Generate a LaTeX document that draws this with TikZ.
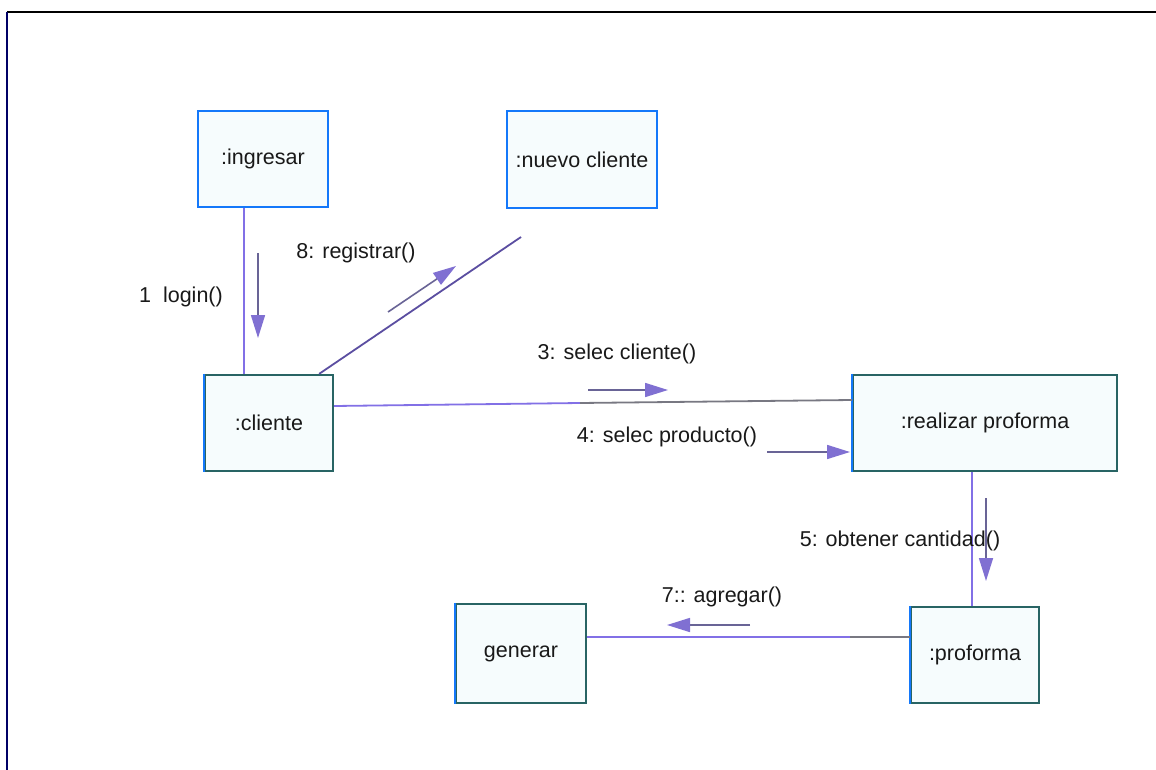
\documentclass[tikz,border=0pt]{standalone}
\usepackage{fontspec}
\setmainfont{Liberation Sans}
\usetikzlibrary{arrows.meta}
\definecolor{boxblue}{RGB}{20,120,250}
\definecolor{boxteal}{RGB}{40,100,100}
\definecolor{boxfill}{RGB}{246,252,253}
\definecolor{linkpurple}{RGB}{130,112,230}
\definecolor{linkgray}{RGB}{120,120,130}
\definecolor{msgline}{RGB}{105,100,150}
\definecolor{msghead}{RGB}{128,112,210}
\definecolor{txt}{RGB}{25,25,25}
\tikzset{
  objbox/.style={draw=#1, line width=2.2pt, fill=boxfill, inner sep=0pt, text=txt,
    font=\fontsize{21.5}{25}\selectfont},
  linkline/.style={draw=linkpurple, line width=1.8pt},
  graylink/.style={draw=linkgray, line width=1.8pt},
  msg/.style={draw=msgline, line width=1.6pt,
    -{Triangle[length=23pt,width=14pt,fill=msghead,color=msghead]}},
  lbl/.style={font=\fontsize{21.5}{25}\selectfont, inner sep=0pt, text=txt}
}
\begin{document}
\begin{tikzpicture}[x=1pt,y=-1pt]
\useasboundingbox (0,0) rectangle (1156,770);
\fill[white] (0,0) rectangle (1156,770);
% frame
\draw[black, line width=1.4pt] (7,12) -- (1156,12);
\draw[black!60!blue, line width=1.2pt] (7,12) -- (7,770);

% objects
\node[objbox=boxblue, minimum width=130pt, minimum height=96pt] (ing) at (263,159) {:ingresar};
\node[objbox=boxblue, minimum width=150pt, minimum height=97pt] (nue) at (582,159.5) {:nuevo cliente};
\node[objbox=boxteal, minimum width=128pt, minimum height=96pt] (cli) at (269,423) {:cliente};
\node[objbox=boxteal, minimum width=264pt, minimum height=96pt] (rea) at (985,423) {:realizar proforma};
\node[objbox=boxteal, minimum width=130pt, minimum height=99pt] (gen) at (521,653.5) {generar};
\node[objbox=boxteal, minimum width=128pt, minimum height=96pt] (pro) at (975,655) {:proforma};
% blue left edges
\foreach \n in {cli,rea,gen,pro}{\draw[boxblue, line width=2.2pt] (\n.north west) -- (\n.south west);}

% links
\draw[linkline] (ing.south -| 244,0) -- (cli.north -| 244,0);
\draw[linkline, draw=black!30!linkpurple] (cli.north east) ++(-15,0) coordinate (c1) -- (521,237) coordinate (n1);
\draw[linkline] (cli.east |- 0,406) -- (580,403) coordinate (m1);
\draw[graylink] (m1) -- (rea.west |- 0,400);
\draw[linkline] (rea.south -| 972,0) -- (pro.north -| 972,0);
\draw[linkline] (gen.east |- 0,637) -- (850,637) coordinate (m2);
\draw[graylink] (m2) -- (pro.west |- 0,637);

% message arrows
\coordinate (a1s) at (258,253); \coordinate (a1e) at (258,338);
\draw[msg] (a1s) -- (a1e);
\node[lbl] (l1) at (181,297) {1\ \ login()};

\coordinate (a8s) at (388,312); \coordinate (a8e) at (456,266);
\draw[msg] (a8s) -- (a8e);
\node[lbl] (l8) at (356,253) {8: registrar()};

\coordinate (a3s) at (588,390); \coordinate (a3e) at (668,390);
\draw[msg] (a3s) -- (a3e);
\node[lbl] (l3) at (617,354) {3: selec cliente()};

\coordinate (a4s) at (767,452); \coordinate (a4e) at (850,452);
\draw[msg] (a4s) -- (a4e);
\node[lbl] (l4) at (667,437) {4: selec producto()};

\coordinate (a5s) at (986,498); \coordinate (a5e) at (986,581);
\draw[msg] (a5s) -- (a5e);
\node[lbl] (l5) at (900,541) {5: obtener cantidad()};

\coordinate (a7s) at (750,625); \coordinate (a7e) at (667,625);
\draw[msg] (a7s) -- (a7e);
\node[lbl] (l7) at (722,597) {7:: agregar()};
\end{tikzpicture}
\end{document}
